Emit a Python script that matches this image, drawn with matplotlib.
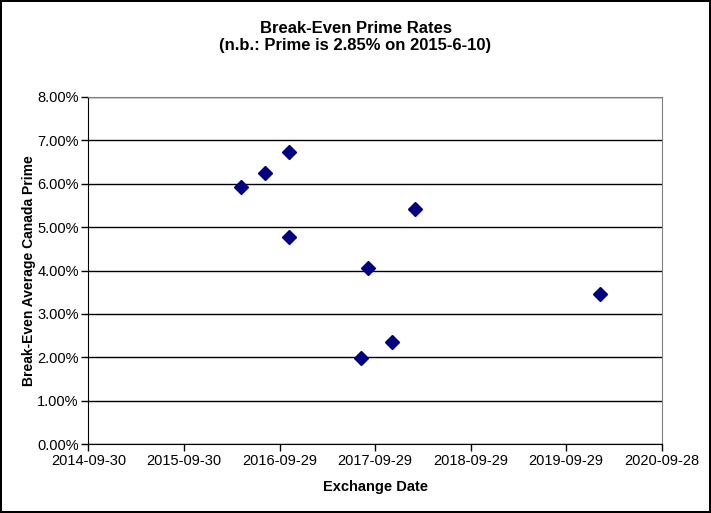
"""Break-even prime rates scatter, Excel-style."""

import matplotlib

matplotlib.use("Agg")
import matplotlib.dates as mdates  # noqa: E402
import numpy as np  # noqa: E402
import pandas as pd  # noqa: E402
from matplotlib import pyplot as plt  # noqa: E402
from matplotlib.ticker import FuncFormatter, MultipleLocator  # noqa: E402

exchange_dates = [
    "2016-05-04",
    "2016-08-06",
    "2016-11-04",
    "2016-11-04",
    "2017-08-05",
    "2017-09-03",
    "2017-12-03",
    "2018-03-02",
    "2020-02-04",
]
break_even_prime = [5.93, 6.24, 6.73, 4.78, 1.99, 4.05, 2.35, 5.42, 3.45]

x_tick_labels = [
    "2014-09-30",
    "2015-09-30",
    "2016-09-29",
    "2017-09-29",
    "2018-09-29",
    "2019-09-29",
    "2020-09-28",
]

plt.rcParams["font.family"] = ["Liberation Sans", "DejaVu Sans"]

fig = plt.figure(figsize=(7.11, 5.13), dpi=100)
fig.patch.set_edgecolor("black")
fig.patch.set_linewidth(1.5)

W, H = 711, 513
ax = fig.add_axes([88.4 / W, 1 - 444.1 / H, (661.7 - 88.4) / W, (444.1 - 96.9) / H])

dates = pd.to_datetime(exchange_dates)
ticks = pd.to_datetime(x_tick_labels)

ax.plot(
    dates,
    np.array(break_even_prime) / 100,
    linestyle="none",
    marker="D",
    markersize=7,
    color="#000080",
    zorder=3,
)

ax.set_xlim(ticks[0], ticks[-1])
ax.set_ylim(0, 0.08)
ax.set_xticks(ticks)
ax.xaxis.set_major_formatter(mdates.DateFormatter("%Y-%m-%d"))
ax.yaxis.set_major_locator(MultipleLocator(0.01))
ax.yaxis.set_major_formatter(FuncFormatter(lambda v, _: f"{v * 100:.2f}%"))

ax.grid(axis="y", color="black", linewidth=1)
ax.set_axisbelow(True)
for side in ("top", "right"):
    ax.spines[side].set_color("#808080")
for side in ("left", "bottom"):
    ax.spines[side].set_color("black")
ax.tick_params(direction="out", length=5, width=1, labelsize=10.5, colors="black", pad=2)

ax.set_xlabel("Exchange Date", fontsize=10.5, fontweight="bold", labelpad=9)
ax.set_ylabel("Break-Even Average Canada Prime", fontsize=10, fontweight="bold")
ax.yaxis.set_label_coords((36 - 88.4) / 573.3, 0.5)
fig.text(
    0.5,
    1 - 37 / H,
    "Break-Even Prime Rates\n(n.b.: Prime is 2.85% on 2015-6-10)",
    ha="center",
    va="center",
    fontsize=12,
    fontweight="bold",
    linespacing=1.2,
)

fig.savefig("out.png", dpi=100, edgecolor=fig.get_edgecolor())
